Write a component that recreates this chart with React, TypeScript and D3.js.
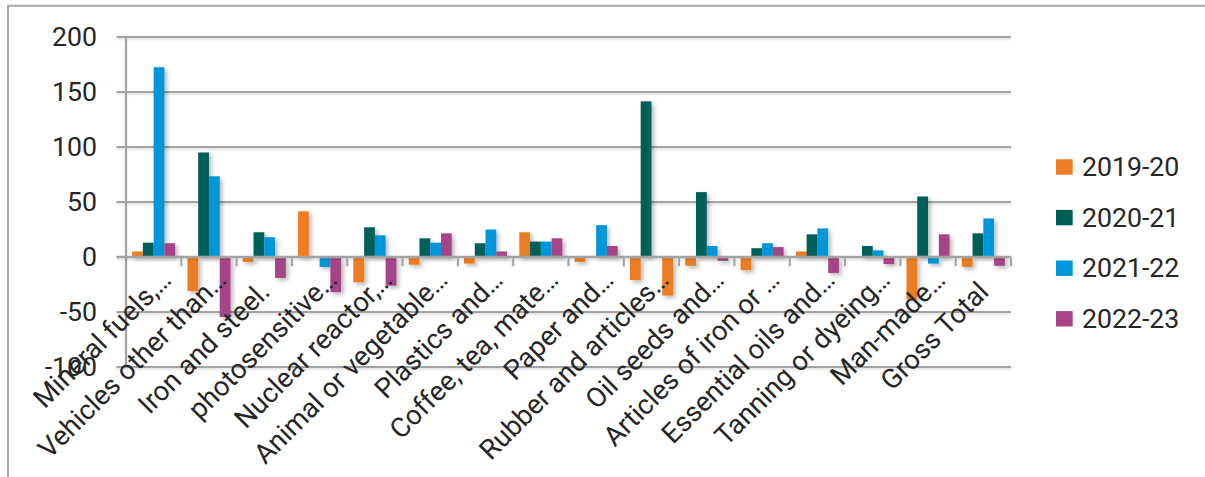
import React from "react";
import * as d3 from "d3";

// Product categories (truncated as printed on the axis)
const categories = [
  "Mineral fuels,…",
  "Vehicles other than…",
  "Iron and steel.",
  "photosensitive…",
  "Nuclear reactor,…",
  "Animal or vegetable…",
  "Plastics and…",
  "Coffee, tea, mate…",
  "Paper and…",
  "Rubber and articles…",
  "Oil seeds and…",
  "Articles of iron or …",
  "Essential oils and…",
  "Tanning or dyeing…",
  "Man-made…",
  "Gross Total",
];

const seriesNames = ["2019-20", "2020-21", "2021-22", "2022-23"];

const values2019 = [5, -31, -4.5, 41.5, -23, -7, -6, 22.5, -4.5, -21, -8, -12, 5, 0, -38.5, -9];
const values2020 = [13, 95, 22.5, 0, 27, 17, 12.5, 14, 0, 141.5, 59, 8, 20.6, 10, 55, 21.5];
const values2021 = [172.5, 73.4, 18, -9, 19.7, 13, 25, 14, 29, 0, 10, 12.5, 26, 6, -6, 35];
const values2022 = [12.5, -54.5, -19, -32, -26, 21.5, 5, 17, 10, -35, -3.5, 9, -14.5, -6.5, 20.6, -8];

const yTicks = [-100, -50, 0, 50, 100, 150, 200];

const seriesValues = [values2019, values2020, values2021, values2022];
const colors = ["#ED7D22", "#005E58", "#0096D9", "#A54587"];

// One point drawn with its own fill (Rubber, 2022-23)
const pointColorOverride = { category: "Rubber and articles…", series: "2022-23", color: "#ED7D22" };

const W = 1205;
const H = 477;
const FONT = "Roboto, 'Noto Sans', sans-serif";
const FS = 26.7;
const LABEL_FS = 27.4;
const GRID = "#a3a3a3";
const TEXT = "#262626";

export default function App() {
  const left = 126;
  const right = 1011;
  const top = 37;
  const bottom = 367;

  const x = d3.scaleBand<string>().domain(categories).range([left, right]).paddingInner(0).paddingOuter(0);
  const xs = d3
    .scaleBand<string>()
    .domain(seriesNames)
    .range([0, x.bandwidth()])
    .paddingInner(0)
    .paddingOuter(0.57);
  const y = d3.scaleLinear().domain([-100, 200]).range([bottom, top]);
  const y0 = y(0);

  const boundaries = categories.map((c) => (x(c) as number) + x.bandwidth());

  return (
    <svg
      width={W}
      height={H}
      style={{ position: "absolute", left: 0, top: 0, background: "#fff" }}
      fontFamily={FONT}
    >
      <defs>
        <filter id="shadow" x="-50%" y="-50%" width="200%" height="200%">
          <feDropShadow dx="2.5" dy="2.5" stdDeviation="2" floodColor="#000" floodOpacity="0.28" />
        </filter>
        <filter id="lineShadow" x="-5%" y="-200%" width="110%" height="500%">
          <feDropShadow dx="0" dy="1.5" stdDeviation="1" floodColor="#000" floodOpacity="0.15" />
        </filter>
      </defs>

      {/* outer chart frame */}
      <path d={`M8,${H} V5.7 H${W}`} fill="none" stroke="#a8a8a8" strokeWidth={2} />

      {/* gridlines */}
      <g filter="url(#lineShadow)">
        {yTicks
          .filter((t) => t !== 0)
          .map((t) => (
            <line key={t} x1={left - 9.5} x2={right} y1={y(t)} y2={y(t)} stroke={GRID} strokeWidth={2} />
          ))}
        <line x1={left} x2={left} y1={top} y2={bottom} stroke={GRID} strokeWidth={2} />
      </g>

      {/* bars */}
      <g filter="url(#shadow)">
        {categories.map((c, ci) =>
          seriesNames.map((s, si) => {
            const v = seriesValues[si][ci];
            const bx = (x(c) as number) + (xs(s) as number);
            const fill =
              c === pointColorOverride.category && s === pointColorOverride.series
                ? pointColorOverride.color
                : colors[si];
            return (
              <rect
                key={c + s}
                x={bx}
                width={xs.bandwidth()}
                y={Math.min(y(v), y0)}
                height={Math.abs(y(v) - y0)}
                fill={fill}
              />
            );
          })
        )}
      </g>

      {/* zero axis with category tick marks */}
      <g filter="url(#lineShadow)">
        <line x1={left - 9.5} x2={right} y1={y0} y2={y0} stroke={GRID} strokeWidth={2.7} />
        {boundaries.map((bx, i) => (
          <line key={i} x1={bx} x2={bx} y1={y0} y2={y0 + 9} stroke={GRID} strokeWidth={2} />
        ))}
      </g>

      {/* y tick labels */}
      {yTicks.map((t) => (
        <text
          key={t}
          x={97}
          y={y(t)}
          textAnchor="end"
          dominantBaseline="central"
          fontSize={FS}
          fill={TEXT}
        >
          {t}
        </text>
      ))}

      {/* category labels, rotated; full-length labels sit a little further back */}
      {categories.map((c) => {
        const truncated = c.endsWith("…");
        const back = truncated ? 0 : 12;
        const cx = (x(c) as number) + x.bandwidth() / 2 + 19 - back;
        const cy = 281.5 + back;
        return (
          <text
            key={c}
            transform={`translate(${cx},${cy}) rotate(-45)`}
            textAnchor="end"
            fontSize={LABEL_FS}
            fill={TEXT}
          >
            {c}
          </text>
        );
      })}

      {/* legend */}
      {seriesNames.map((s, i) => {
        const cy = 167 + i * 50.6;
        return (
          <g key={s}>
            <rect x={1056} y={cy - 7.7} width={16.7} height={15.4} fill={colors[i]} />
            <text x={1082} y={cy} dominantBaseline="central" fontSize={FS} fill={TEXT}>
              {s}
            </text>
          </g>
        );
      })}
    </svg>
  );
}
